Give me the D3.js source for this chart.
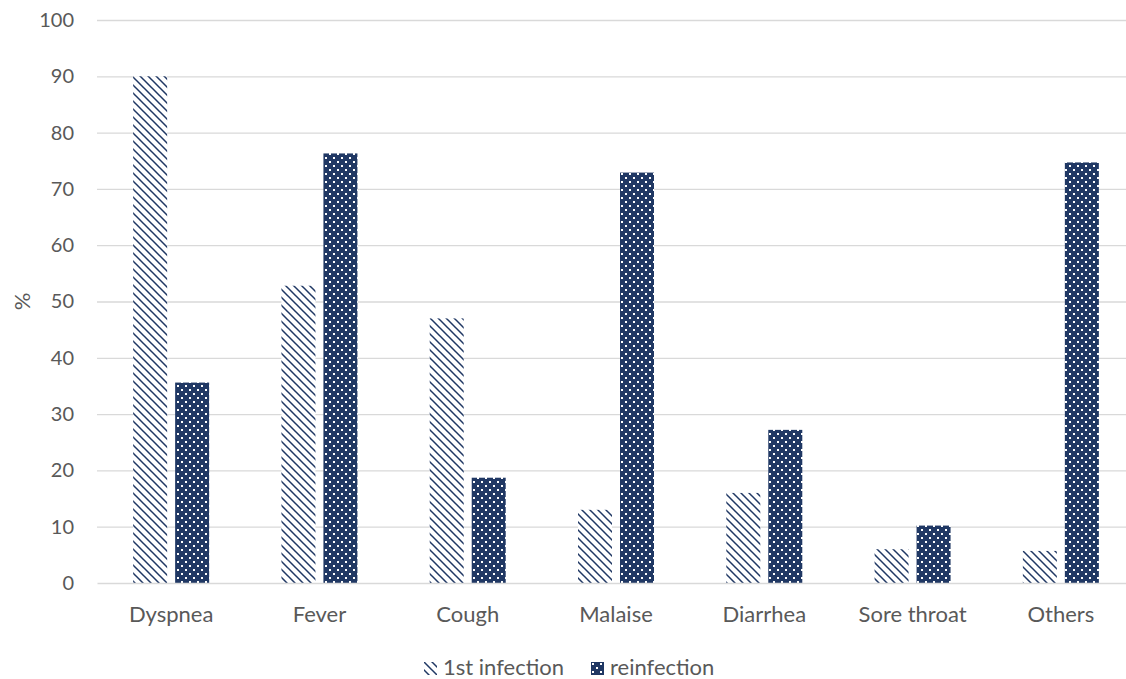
<!DOCTYPE html>
<html>
<head>
<meta charset="utf-8">
<script src="https://cdnjs.cloudflare.com/ajax/libs/d3/7.8.5/d3.min.js"></script>
<style>
  body { margin: 0; background: #fff; overflow: hidden; }
  svg text { font-family: Lato, "Noto Sans", sans-serif; fill: #595959; }
</style>
</head>
<body>
<div id="chart"></div>
<script>
'use strict';

var categories = ['Dyspnea', 'Fever', 'Cough', 'Malaise', 'Diarrhea', 'Sore throat', 'Others'];
var seriesNames = ['1st infection', 'reinfection'];
var firstInfection = [90, 52.8, 47, 13, 16, 6, 5.7];
var reinfection = [35.6, 76.3, 18.7, 72.9, 27.2, 10.2, 74.7];
var yTicks = [0, 10, 20, 30, 40, 50, 60, 70, 80, 90, 100];

var width = 1126,
    height = 679;

// plot area runs a little past the right edge of the picture
var margin = { top: 20, left: 97, bottom: 96 };
var plotRight = 1135;

var navy = '#203864';

var svg = d3.select('#chart').append('svg')
    .attr('width', width)
    .attr('height', height);

// patterns
var defs = svg.append('defs');

var diag = defs.append('pattern')
    .attr('id', 'pat-diag')
    .attr('patternUnits', 'userSpaceOnUse')
    .attr('width', 8)
    .attr('height', 8);
diag.append('rect').attr('width', 8).attr('height', 8).attr('fill', '#fff');
diag.append('path')
    .attr('d', 'M-2,-2 L10,10 M-2,6 L2,10 M6,-2 L10,2')
    .attr('stroke', navy)
    .attr('stroke-width', 1.5);

var dots = defs.append('pattern')
    .attr('id', 'pat-dots')
    .attr('patternUnits', 'userSpaceOnUse')
    .attr('width', 8)
    .attr('height', 8);
dots.append('rect').attr('width', 8).attr('height', 8).attr('fill', navy);
dots.append('rect').attr('x', 1).attr('y', 1).attr('width', 2).attr('height', 2).attr('fill', '#fff');
dots.append('rect').attr('x', 5).attr('y', 5).attr('width', 2).attr('height', 2).attr('fill', '#fff');

var fills = ['url(#pat-diag)', 'url(#pat-dots)'];

var x = d3.scaleBand()
    .domain(categories)
    .range([margin.left, plotRight])
    .paddingInner(0)
    .paddingOuter(0);

var y = d3.scaleLinear()
    .domain([0, 100])
    .range([height - margin.bottom, margin.top]);

var barWidth = 34,
    barGap = 8;

var x1 = d3.scaleOrdinal()
    .domain([0, 1])
    .range([-barWidth - barGap / 2, barGap / 2]);

// gridlines
svg.append('g')
    .attr('class', 'grid')
    .selectAll('line')
    .data(yTicks.slice(1))
    .enter()
    .append('line')
    .attr('x1', margin.left)
    .attr('x2', plotRight)
    .attr('y1', function(d) { return y(d) + 0.5; })
    .attr('y2', function(d) { return y(d) + 0.5; })
    .attr('stroke', '#d9d9d9')
    .attr('stroke-width', 1.3);

// y axis labels
var yAxis = d3.axisLeft(y)
    .tickValues(yTicks)
    .tickSize(0)
    .tickPadding(23);

svg.append('g')
    .attr('transform', 'translate(' + margin.left + ',0)')
    .call(yAxis)
    .call(function(g) { g.select('.domain').remove(); })
    .selectAll('text')
    .style('font-size', '20px')
    .attr('fill', '#595959');

// bars
var series = [firstInfection, reinfection];
series.forEach(function(values, s) {
    svg.append('g')
        .selectAll('rect')
        .data(values)
        .enter()
        .append('rect')
        .attr('x', function(d, i) { return x(categories[i]) + x.bandwidth() / 2 + x1(s); })
        .attr('y', function(d) { return y(d); })
        .attr('width', barWidth)
        .attr('height', function(d) { return y(0) - y(d); })
        .attr('fill', fills[s]);
});

// x axis
var xAxis = d3.axisBottom(x)
    .tickSize(0)
    .tickPadding(22);

var xg = svg.append('g')
    .attr('transform', 'translate(0,' + y(0) + ')')
    .call(xAxis);
xg.select('.domain')
    .attr('stroke', '#d9d9d9')
    .attr('stroke-width', 1.3);
xg.selectAll('text')
    .attr('dy', null)
    .attr('y', 39)
    .style('font-size', '22px')
    .attr('fill', '#595959');

// y axis title
svg.append('text')
    .attr('transform', 'translate(30,' + y(50) + ') rotate(-90)')
    .attr('text-anchor', 'middle')
    .style('font-size', '22px')
    .text('%');

// legend
var legendX = [424, 591];
var legend = svg.append('g')
    .selectAll('g')
    .data(seriesNames)
    .enter()
    .append('g')
    .attr('transform', function(d, i) { return 'translate(' + legendX[i] + ',662)'; });

legend.append('rect')
    .attr('width', 13)
    .attr('height', 13)
    .attr('fill', function(d, i) { return fills[i]; });

legend.append('text')
    .attr('x', 19)
    .attr('y', 13)
    .style('font-size', '22px')
    .text(function(d) { return d; });
</script>
</body>
</html>
